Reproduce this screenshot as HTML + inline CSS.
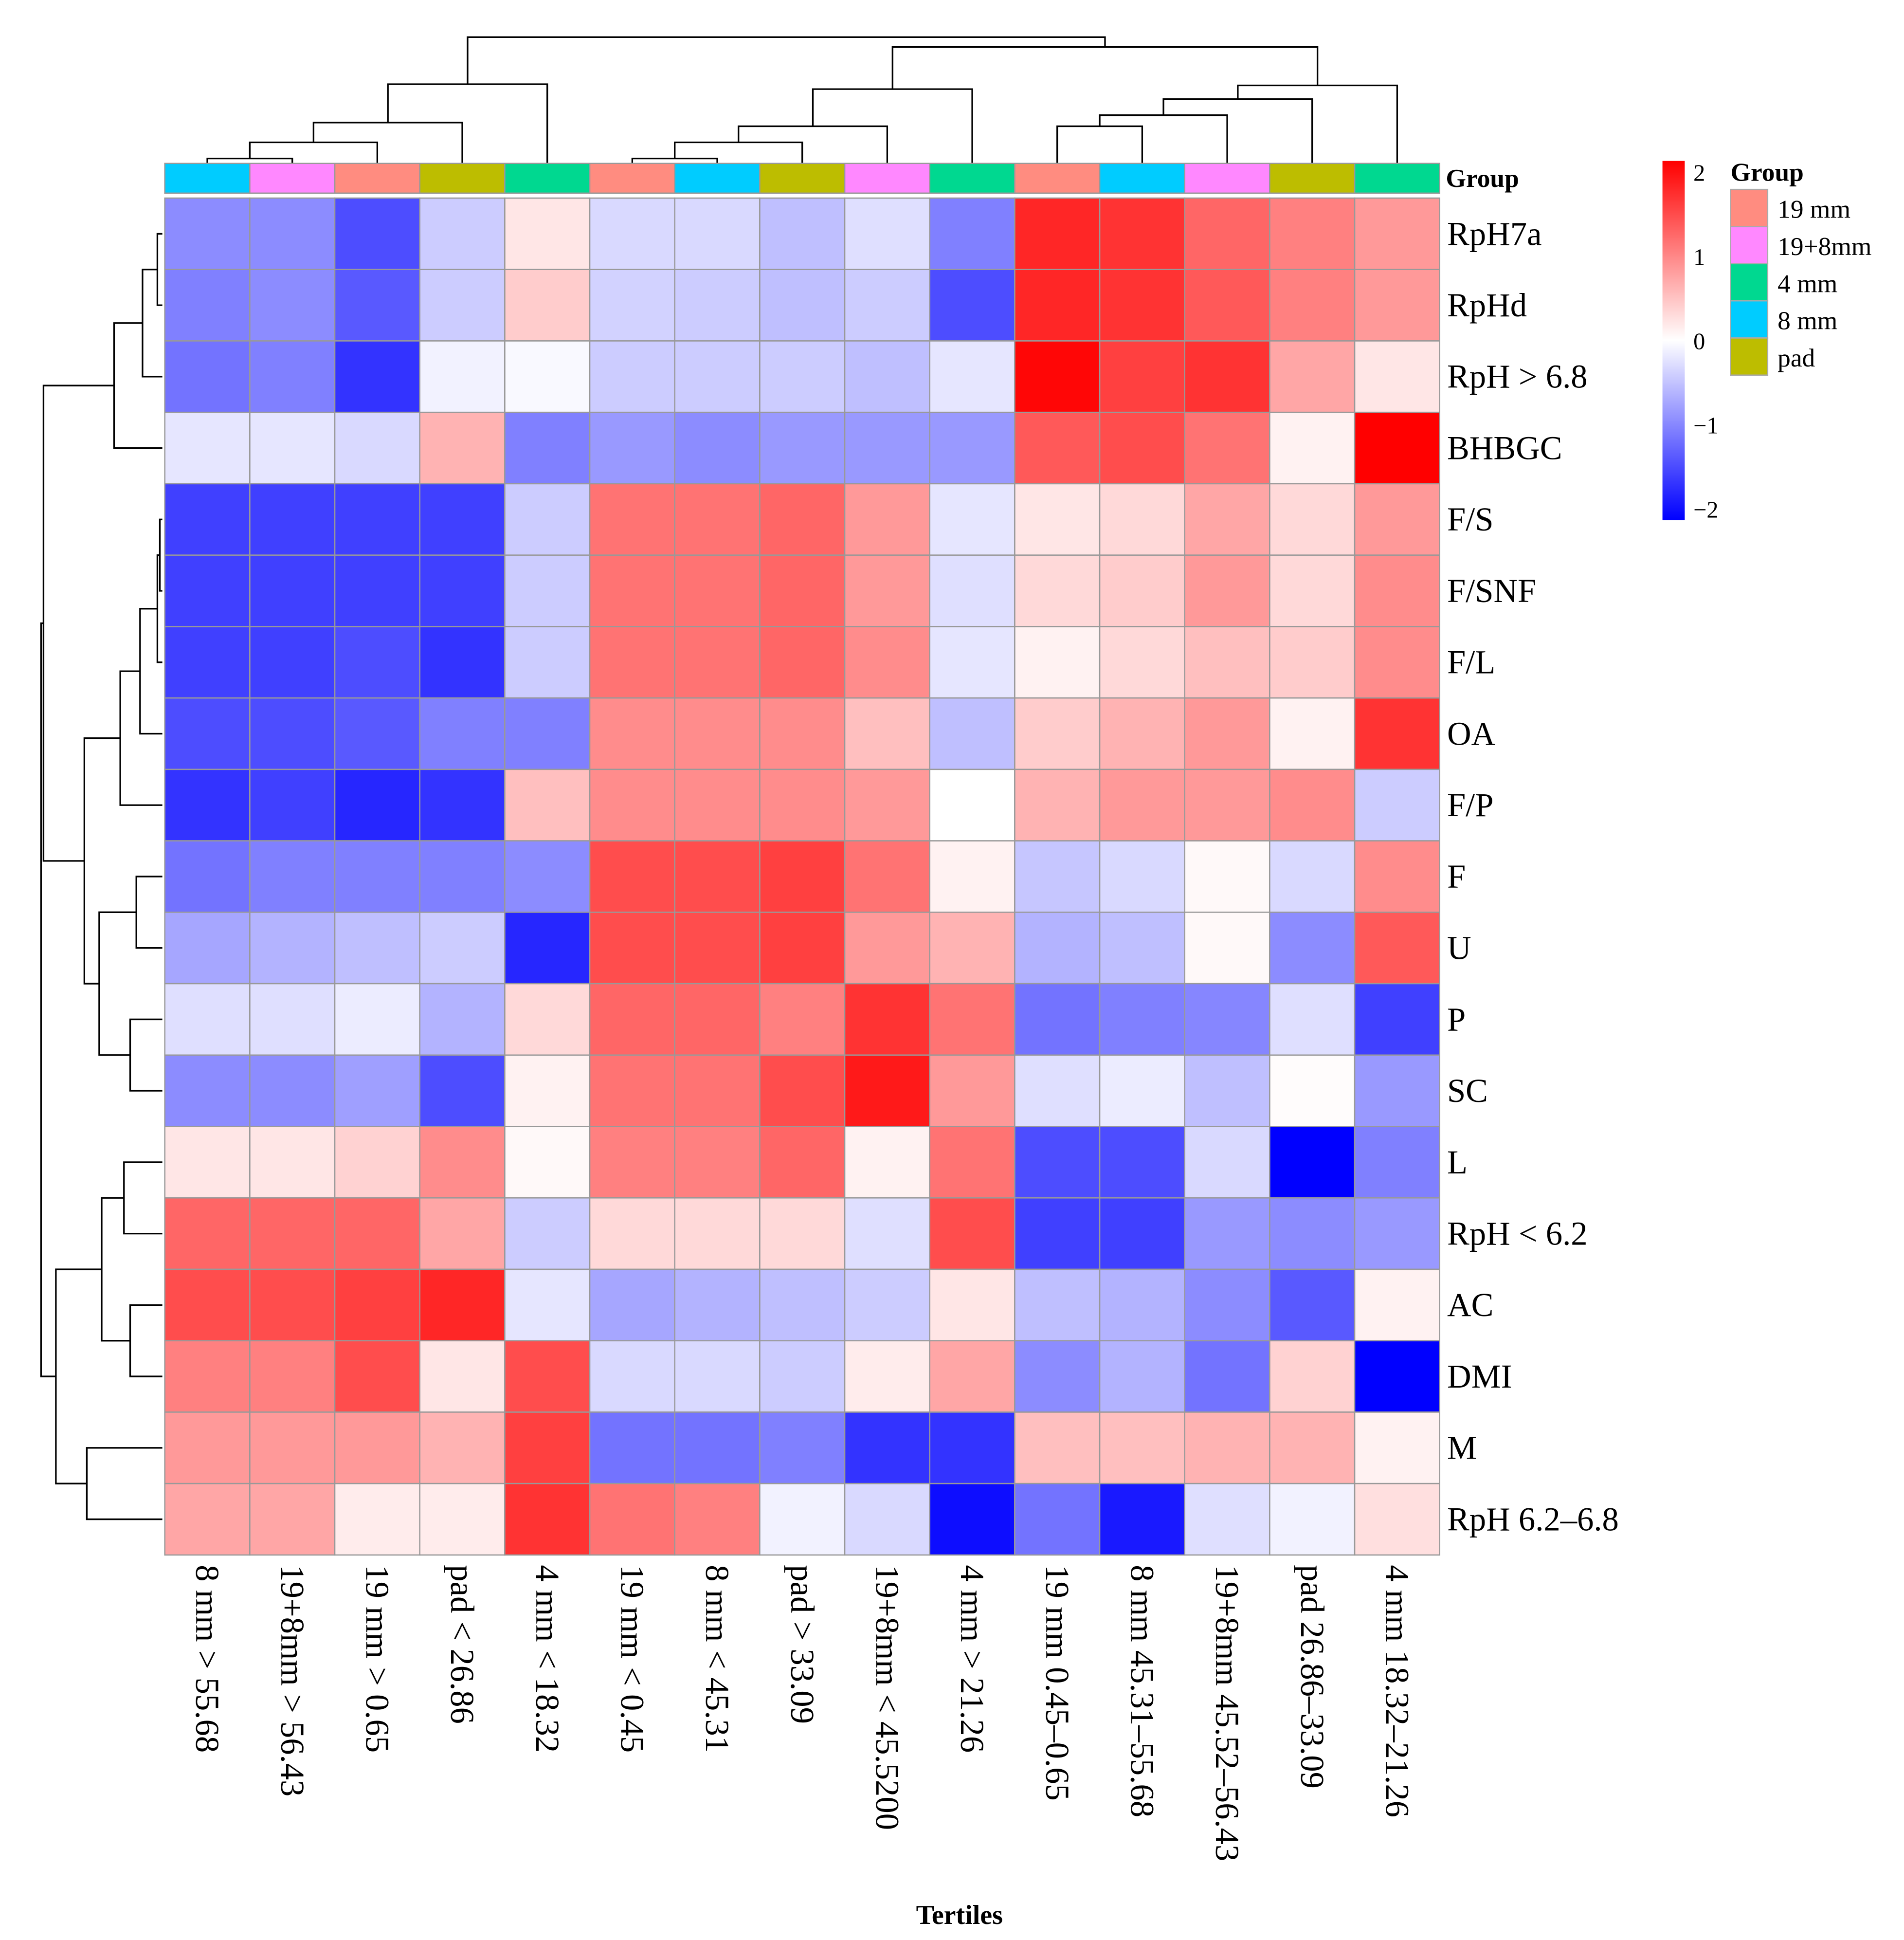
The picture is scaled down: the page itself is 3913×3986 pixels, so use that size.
<!DOCTYPE html>
<html><head><meta charset="utf-8"><style>
html,body{margin:0;padding:0;background:#fff;width:3913px;height:3986px;overflow:hidden}
svg{display:block}
text{font-family:"Liberation Serif",serif;fill:#000}
</style></head><body>
<svg id="chart" width="3913" height="3986" viewBox="0 0 1538 1567" xmlns="http://www.w3.org/2000/svg">
<defs><linearGradient id="cb" x1="0" y1="1" x2="0" y2="0"><stop offset="0" stop-color="#0000ff"/><stop offset="0.5" stop-color="#ffffff"/><stop offset="1" stop-color="#ff0000"/></linearGradient></defs>
<g id="dendro" fill="none" stroke="#000" stroke-width="1.3"></g>
<g id="groupbar"></g>
<g id="cells"></g>
<g id="rowlabels"></g>
<g id="collabels"></g>
<text x="1168" y="151" font-size="21" font-weight="bold">Group</text>
<text x="775" y="1554" font-size="22" font-weight="bold" text-anchor="middle">Tertiles</text>
<g>
<rect x="1343" y="130" width="18" height="290" fill="url(#cb)"/>
<text x="1368" y="146" font-size="19">2</text>
<text x="1368" y="214" font-size="19">1</text>
<text x="1368" y="282" font-size="19">0</text>
<text x="1368" y="350" font-size="19">−1</text>
<text x="1368" y="418" font-size="19">−2</text>
</g>
<g id="glegend">
<text x="1398" y="146" font-size="21" font-weight="bold">Group</text>
</g>
</svg>
<script>
const rows=["RpH7a","RpHd","RpH > 6.8","BHBGC","F/S","F/SNF","F/L","OA","F/P","F","U","P","SC","L","RpH < 6.2","AC","DMI","M","RpH 6.2–6.8"];
const cols=["8 mm > 55.68","19+8mm > 56.43","19 mm > 0.65","pad < 26.86","4 mm < 18.32","19 mm < 0.45","8 mm < 45.31","pad > 33.09","19+8mm < 45.5200","4 mm > 21.26","19 mm 0.45–0.65","8 mm 45.31–55.68","19+8mm 45.52–56.43","pad 26.86–33.09","4 mm 18.32–21.26"];
const colGroups=["8 mm","19+8mm","19 mm","pad","4 mm","19 mm","8 mm","pad","19+8mm","4 mm","19 mm","8 mm","19+8mm","pad","4 mm"];
const groupNames=["19 mm","19+8mm","4 mm","8 mm","pad"];
const groupColors=["#FF8C80","#FF88FF","#00D890","#00CCFF","#BDBD00"];
const v0=[-0.9,-0.9,-1.4,-0.4,0.2,-0.3,-0.3,-0.5,-0.25,-1.0,1.7,1.6,1.2,1.0,0.8];
const v1=[-1.0,-0.9,-1.3,-0.4,0.4,-0.35,-0.4,-0.5,-0.4,-1.4,1.7,1.6,1.3,1.0,0.8];
const v2=[-1.1,-1.0,-1.6,-0.1,-0.05,-0.4,-0.4,-0.4,-0.5,-0.2,1.95,1.5,1.6,0.7,0.2];
const v3=[-0.2,-0.2,-0.3,0.6,-1.0,-0.8,-0.9,-0.8,-0.8,-0.8,1.3,1.4,1.1,0.1,2.0];
const v4=[-1.5,-1.5,-1.5,-1.5,-0.4,1.1,1.1,1.2,0.8,-0.2,0.2,0.3,0.7,0.3,0.8];
const v5=[-1.5,-1.5,-1.5,-1.5,-0.4,1.1,1.1,1.2,0.8,-0.25,0.3,0.4,0.8,0.3,0.9];
const v6=[-1.5,-1.5,-1.4,-1.6,-0.4,1.1,1.1,1.2,0.9,-0.2,0.1,0.3,0.5,0.4,0.9];
const v7=[-1.4,-1.4,-1.3,-1.0,-1.0,0.9,0.9,0.9,0.5,-0.5,0.4,0.6,0.8,0.1,1.6];
const v8=[-1.6,-1.5,-1.7,-1.6,0.5,0.9,0.9,0.9,0.8,0,0.6,0.8,0.8,0.9,-0.4];
const v9=[-1.1,-1.0,-1.0,-1.0,-0.9,1.4,1.4,1.5,1.1,0.1,-0.45,-0.3,0.05,-0.3,0.9];
const v10=[-0.7,-0.6,-0.5,-0.4,-1.7,1.4,1.4,1.5,0.8,0.6,-0.6,-0.5,0.05,-0.9,1.3];
const v11=[-0.25,-0.25,-0.15,-0.6,0.3,1.2,1.2,1.0,1.6,1.1,-1.1,-1.0,-0.95,-0.25,-1.5];
const v12=[-0.9,-0.9,-0.75,-1.4,0.1,1.1,1.1,1.4,1.8,0.8,-0.25,-0.15,-0.5,0.02,-0.8];
const v13=[0.2,0.2,0.35,0.9,0.05,1.0,1.0,1.2,0.1,1.1,-1.4,-1.4,-0.3,-2.0,-1.0];
const v14=[1.2,1.2,1.2,0.7,-0.4,0.3,0.3,0.3,-0.25,1.4,-1.5,-1.5,-0.8,-0.9,-0.8];
const v15=[1.4,1.4,1.5,1.7,-0.2,-0.7,-0.6,-0.5,-0.4,0.2,-0.5,-0.6,-0.9,-1.3,0.1];
const v16=[1.0,1.0,1.4,0.2,1.4,-0.3,-0.3,-0.4,0.15,0.7,-0.9,-0.6,-1.1,0.35,-2.0];
const v17=[0.8,0.8,0.8,0.6,1.5,-1.1,-1.1,-1.0,-1.6,-1.6,0.5,0.5,0.6,0.6,0.1];
const v18=[0.7,0.7,0.15,0.15,1.6,1.1,1.0,-0.1,-0.3,-1.9,-1.1,-1.8,-0.25,-0.1,0.25];
const values=[v0,v1,v2,v3,v4,v5,v6,v7,v8,v9,v10,v11,v12,v13,v14,v15,v16,v17,v18];

const NS="http://www.w3.org/2000/svg";
const X0=133,X1=1163,Y0=160,Y1=1256;
const cw=(X1-X0)/cols.length, rh=(Y1-Y0)/rows.length;
const xs=i=>X0+i*cw, ys=j=>Y0+j*rh;
function color(v){v=Math.max(-2,Math.min(2,v));let r,g,b;
 if(v>=0){const t=v/2;r=255;g=b=Math.round(255*(1-t));}else{const t=-v/2;b=255;r=g=Math.round(255*(1-t));}
 return `rgb(${r},${g},${b})`;}
function mk(tag,attrs,parent){const e=document.createElementNS(NS,tag);for(const k in attrs)e.setAttribute(k,attrs[k]);parent.appendChild(e);return e;}
const cells=document.getElementById('cells');
values.forEach((row,j)=>row.forEach((v,i)=>{
 const r=mk('rect',{x:xs(i),y:ys(j),width:cw,height:rh,fill:color(v),stroke:'#999','stroke-width':1},cells);
 
 
}));
const gb=document.getElementById('groupbar');
colGroups.forEach((g,i)=>{
 const r=mk('rect',{x:xs(i),y:132,width:cw,height:24,fill:groupColors[groupNames.indexOf(g)],stroke:'#999','stroke-width':1},gb);
 
 
});
const rl=document.getElementById('rowlabels');
rows.forEach((n,j)=>{
 const t=mk('text',{x:1169,y:ys(j)+rh/2+9,'font-size':27},rl);t.textContent=n;
 
 
});
const cl=document.getElementById('collabels');
cols.forEach((n,i)=>{
 const cx=xs(i)+cw/2-9;
 const t=mk('text',{x:cx,y:1264,'font-size':27,transform:`rotate(90 ${cx} 1264)`},cl);t.textContent=n;
 
 
});
const gl=document.getElementById('glegend');
groupNames.forEach((n,k)=>{
 const r=mk('rect',{x:1398,y:153+k*30,width:30,height:30,fill:groupColors[k],stroke:'#aaa','stroke-width':1},gl);
 
 
 const t=mk('text',{x:1436,y:176+k*30,'font-size':21},gl);t.textContent=n;
 
 
});
// dendrograms
const dg=document.getElementById('dendro');
const cxp=i=>xs(i)+cw/2, cyp=j=>ys(j)+rh/2;
function topU(a,ya,b,yb,h){mk('path',{d:`M${a},${ya}V${h}H${b}V${yb}`},dg);return (a+b)/2;}
let c1=topU(cxp(0),132,cxp(1),132,128);
let c2=topU(c1,128,cxp(2),132,115);
let c3=topU(c2,115,cxp(3),132,99);
let c4=topU(c3,99,cxp(4),132,68);
let d1=topU(cxp(5),132,cxp(6),132,128);
let d2=topU(d1,128,cxp(7),132,115);
let d3=topU(d2,115,cxp(8),132,102);
let d4=topU(d3,102,cxp(9),132,72);
let e1=topU(cxp(10),132,cxp(11),132,102);
let e2=topU(e1,102,cxp(12),132,93);
let e3=topU(e2,93,cxp(13),132,80);
let e4=topU(e3,80,cxp(14),132,69);
let f1=topU(d4,72,e4,69,38);
topU(c4,68,f1,38,30);
function leftU(a,xa,b,xb,h){mk('path',{d:`M${xa},${a}H${h}V${b}H${xb}`},dg);return (a+b)/2;}
const L=131;
let r1=leftU(cyp(0),L,cyp(1),L,127);
let r2=leftU(r1,127,cyp(2),L,115);
let r3=leftU(r2,115,cyp(3),L,92);
let s1=leftU(cyp(4),L,cyp(5),L,129);
let s2=leftU(s1,129,cyp(6),L,127);
let s3=leftU(s2,127,cyp(7),L,113);
let s4=leftU(s3,113,cyp(8),L,97);
let t1=leftU(cyp(9),L,cyp(10),L,110);
let t2=leftU(cyp(11),L,cyp(12),L,105);
let t3=leftU(t1,110,t2,105,80);
let s5=leftU(s4,97,t3,80,68);
let topR=leftU(r3,92,s5,68,35);
let u1=leftU(cyp(13),L,cyp(14),L,100);
let u2=leftU(cyp(15),L,cyp(16),L,105);
let u3=leftU(u1,100,u2,105,82);
let w1=leftU(cyp(17),L,cyp(18),L,70);
let u4=leftU(u3,82,w1,70,45);
leftU(topR,35,u4,45,33);
</script>
</body></html>
